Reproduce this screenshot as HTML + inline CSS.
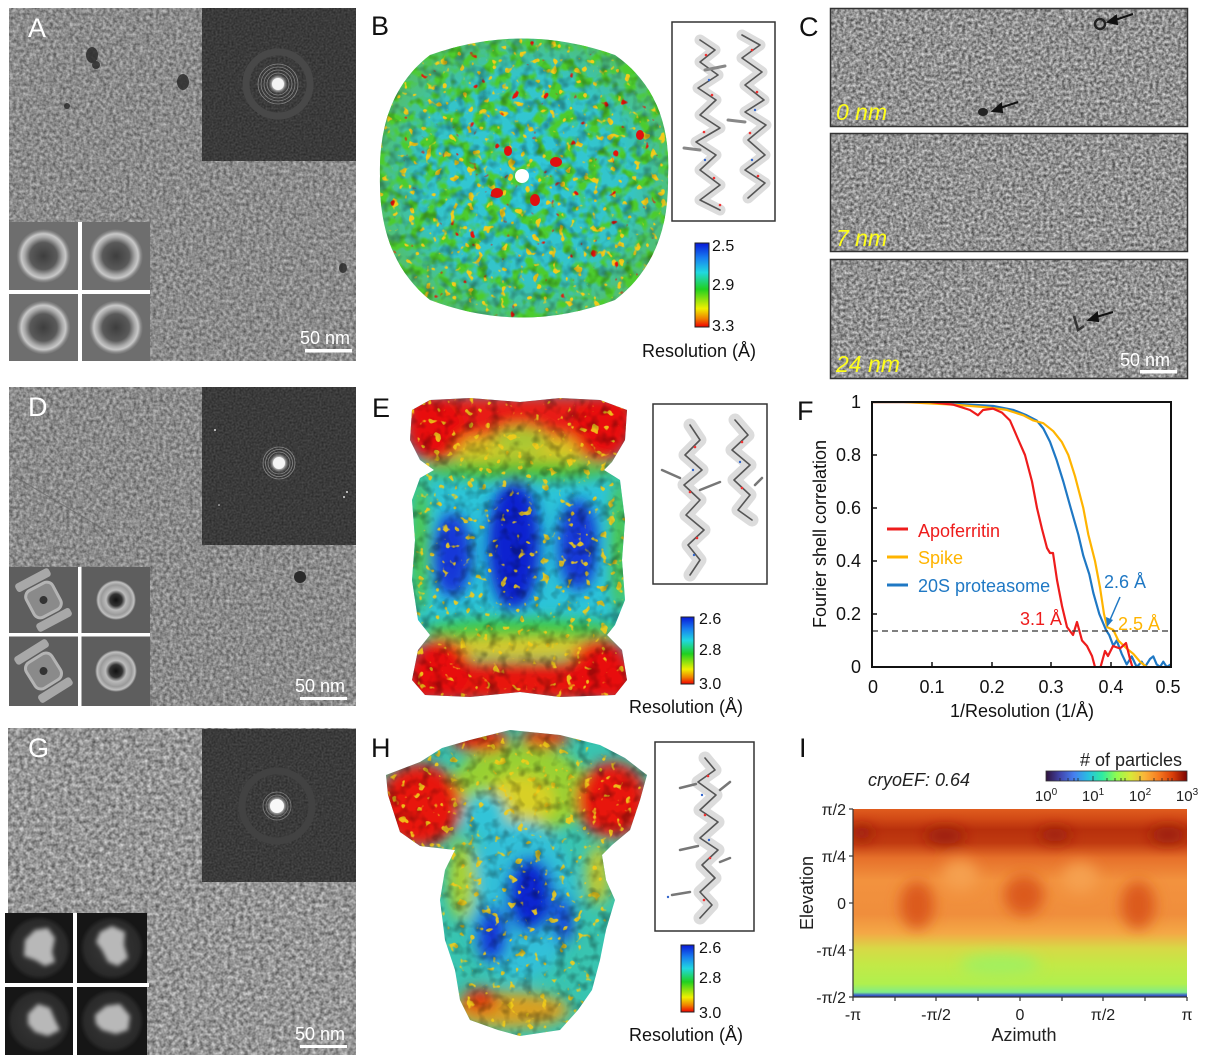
<!DOCTYPE html>
<html><head><meta charset="utf-8">
<style>html,body{margin:0;padding:0;background:#fff;width:1205px;height:1063px;overflow:hidden}svg{display:block}</style>
</head><body>
<svg xmlns="http://www.w3.org/2000/svg" width="1205" height="1063" viewBox="0 0 1205 1063" font-family="'Liberation Sans', Arial, sans-serif">
<defs>
 <filter id="mg" x="0" y="0" width="1" height="1" color-interpolation-filters="sRGB">
  <feTurbulence type="fractalNoise" baseFrequency="0.3" numOctaves="2" seed="3"/>
  <feColorMatrix type="matrix" values="0.55 0 0 0 0.27  0.55 0 0 0 0.27  0.55 0 0 0 0.27  0 0 0 0 1"/>
  <feComposite in2="SourceAlpha" operator="in"/>
 </filter>
 <filter id="mgG" x="0" y="0" width="1" height="1" color-interpolation-filters="sRGB">
  <feTurbulence type="fractalNoise" baseFrequency="0.25" numOctaves="2" seed="8"/>
  <feColorMatrix type="matrix" values="0.65 0 0 0 0.26  0.65 0 0 0 0.26  0.65 0 0 0 0.26  0 0 0 0 1"/>
  <feComposite in2="SourceAlpha" operator="in"/>
 </filter>
 <filter id="mgC" x="0" y="0" width="1" height="1" color-interpolation-filters="sRGB">
  <feTurbulence type="fractalNoise" baseFrequency="0.32" numOctaves="2" seed="5"/>
  <feColorMatrix type="matrix" values="0.8 0 0 0 0.17  0.8 0 0 0 0.17  0.8 0 0 0 0.17  0 0 0 0 1"/>
  <feComposite in2="SourceAlpha" operator="in"/>
 </filter>
 <filter id="fft" x="0" y="0" width="1" height="1" color-interpolation-filters="sRGB">
  <feTurbulence type="fractalNoise" baseFrequency="0.5" numOctaves="1" seed="2"/>
  <feColorMatrix type="matrix" values="0.2 0 0 0 0.13  0.2 0 0 0 0.13  0.2 0 0 0 0.13  0 0 0 0 1"/>
  <feComposite in2="SourceAlpha" operator="in"/>
 </filter>
 <filter id="tx" x="0" y="0" width="1" height="1" color-interpolation-filters="sRGB">
  <feTurbulence type="fractalNoise" baseFrequency="0.09" numOctaves="2" seed="9"/>
  <feColorMatrix type="matrix" values="0 0 0 0 0  0 0 0 0 0  0 0 0 0 0  3 0 0 0 -1.4"/>
  <feComposite in2="SourceAlpha" operator="in"/>
 </filter>
 <filter id="gb" x="0" y="0" width="1" height="1" color-interpolation-filters="sRGB">
  <feTurbulence type="fractalNoise" baseFrequency="0.08" numOctaves="2" seed="21"/>
  <feColorMatrix type="matrix" values="0 0 0 0 0.3  0 0 0 0 0.8  0 0 0 0 0.18  5 0 0 0 -2.3"/>
  <feComposite in2="SourceAlpha" operator="in"/>
 </filter>
 <filter id="rs" x="0" y="0" width="1" height="1" color-interpolation-filters="sRGB">
  <feTurbulence type="fractalNoise" baseFrequency="0.1" numOctaves="2" seed="33"/>
  <feColorMatrix type="matrix" values="0 0 0 0 0.9  0 0 0 0 0.08  0 0 0 0 0.05  12 0 0 0 -8.9"/>
  <feComposite in2="SourceAlpha" operator="in"/>
 </filter>
 <filter id="ys" x="0" y="0" width="1" height="1" color-interpolation-filters="sRGB">
  <feTurbulence type="fractalNoise" baseFrequency="0.12" numOctaves="2" seed="44"/>
  <feColorMatrix type="matrix" values="0 0 0 0 0.95  0 0 0 0 0.8  0 0 0 0 0.1  12 0 0 0 -7.8"/>
  <feComposite in2="SourceAlpha" operator="in"/>
 </filter>
 <filter id="bl" x="-50%" y="-50%" width="200%" height="200%"><feGaussianBlur stdDeviation="7"/></filter>
 <filter id="bl2" x="-50%" y="-50%" width="200%" height="200%"><feGaussianBlur stdDeviation="2"/></filter>

 <radialGradient id="cA">
  <stop offset="0" stop-color="#3e3e3e"/><stop offset="0.5" stop-color="#5a5a5a"/>
  <stop offset="0.7" stop-color="#a8a8a8"/><stop offset="0.82" stop-color="#c8c8c8"/>
  <stop offset="0.92" stop-color="#8a8a8a"/><stop offset="1" stop-color="#6e6e6e"/>
 </radialGradient>
 <radialGradient id="cD">
  <stop offset="0" stop-color="#111"/><stop offset="0.3" stop-color="#333"/>
  <stop offset="0.5" stop-color="#bbb"/><stop offset="0.75" stop-color="#9a9a9a"/>
  <stop offset="0.9" stop-color="#c0c0c0"/><stop offset="1" stop-color="#5e5e5e"/>
 </radialGradient>
 <radialGradient id="cG">
  <stop offset="0" stop-color="#3a3a3a"/><stop offset="0.85" stop-color="#2a2a2a"/><stop offset="1" stop-color="#161616"/>
 </radialGradient>
 <radialGradient id="fc">
  <stop offset="0" stop-color="#ffffff"/><stop offset="0.5" stop-color="#f0f0f0"/><stop offset="1" stop-color="#888" stop-opacity="0"/>
 </radialGradient>
 <radialGradient id="bB" cx="0.5" cy="0.5" r="0.5">
  <stop offset="0" stop-color="#2ec8dc"/><stop offset="0.7" stop-color="#34c4c8"/><stop offset="1" stop-color="#50c070"/>
 </radialGradient>
 <linearGradient id="cbar" x1="0" y1="0" x2="0" y2="1">
  <stop offset="0" stop-color="#0818d8"/><stop offset="0.18" stop-color="#1880f0"/>
  <stop offset="0.35" stop-color="#20d8e0"/><stop offset="0.55" stop-color="#20d020"/>
  <stop offset="0.78" stop-color="#f0f000"/><stop offset="0.9" stop-color="#f08000"/>
  <stop offset="1" stop-color="#f00000"/>
 </linearGradient>
 <linearGradient id="turbo" x1="0" y1="0" x2="1" y2="0">
  <stop offset="0" stop-color="#30123b"/><stop offset="0.1" stop-color="#4145ab"/>
  <stop offset="0.2" stop-color="#4680f0"/><stop offset="0.3" stop-color="#28c0e0"/>
  <stop offset="0.4" stop-color="#30eca0"/><stop offset="0.5" stop-color="#90fc50"/>
  <stop offset="0.6" stop-color="#d8e838"/><stop offset="0.7" stop-color="#fbb438"/>
  <stop offset="0.8" stop-color="#f57a20"/><stop offset="0.9" stop-color="#d83c08"/>
  <stop offset="1" stop-color="#7a0403"/>
 </linearGradient>
 <linearGradient id="hm" x1="0" y1="0" x2="0" y2="1">
  <stop offset="0" stop-color="#e05c1e"/><stop offset="0.05" stop-color="#d24a16"/>
  <stop offset="0.11" stop-color="#b8300c"/><stop offset="0.18" stop-color="#c03a10"/>
  <stop offset="0.26" stop-color="#e6702a"/><stop offset="0.38" stop-color="#f2923e"/>
  <stop offset="0.56" stop-color="#f08e3c"/><stop offset="0.66" stop-color="#f4a846"/>
  <stop offset="0.74" stop-color="#d8d846"/><stop offset="0.82" stop-color="#c4e846"/>
  <stop offset="0.93" stop-color="#b0f04e"/><stop offset="0.975" stop-color="#80ec88"/>
  <stop offset="0.99" stop-color="#3a60c8"/><stop offset="1" stop-color="#2a40b0"/>
 </linearGradient>

 <clipPath id="clipB"><path d="M430,55 Q522,22 615,55 Q672,95 668,176 Q670,258 615,300 Q522,335 430,300 Q378,258 380,176 Q378,95 430,55 Z"/></clipPath>
 <clipPath id="clipE"><path d="M412,410 L430,400 L470,398 L520,402 L560,398 L600,400 L627,410 L625,440 L612,462 L604,470 L620,480 L625,520 L622,560 L625,600 L615,625 L607,635 L622,650 L627,680 L615,695 L560,697 L520,692 L470,697 L425,695 L412,680 L418,650 L430,635 L418,620 L412,580 L415,540 L412,500 L420,478 L434,470 L420,460 L410,440 Z"/></clipPath>
 <clipPath id="clipH"><path d="M470,740 L510,730 L560,735 L600,745 L625,758 L647,775 L640,800 L630,830 L612,845 L602,855 L606,880 L615,900 L606,930 L600,960 L592,990 L578,1010 L560,1030 L520,1036 L498,1030 L470,1020 L460,1000 L455,970 L445,940 L440,900 L445,870 L455,850 L420,846 L400,832 L388,795 L386,775 L420,762 L442,748 Z"/></clipPath>
 <clipPath id="clipI"><rect x="853" y="809" width="334" height="188"/></clipPath>
 <clipPath id="clipF"><rect x="872" y="401" width="299" height="266"/></clipPath>
</defs>

<rect width="1205" height="1063" fill="#fff"/>

<!-- ========== Panel A ========== -->
<rect x="9" y="8" width="347" height="353" fill="#8c8c8c" filter="url(#mg)"/>
<g fill="#2a2a2a" opacity="0.85">
 <ellipse cx="92" cy="55" rx="6" ry="8"/><ellipse cx="96" cy="65" rx="4" ry="4"/>
 <ellipse cx="183" cy="82" rx="6" ry="8"/><circle cx="67" cy="106" r="3"/>
 <ellipse cx="343" cy="268" rx="4" ry="5"/>
</g>
<rect x="202" y="8" width="154" height="153" fill="#3a3a3a" filter="url(#fft)"/>
<g fill="none" stroke="#9a9a9a" stroke-width="0.8" opacity="0.8">
 <circle cx="278" cy="84" r="11"/><circle cx="278" cy="84" r="14"/><circle cx="278" cy="84" r="17"/><circle cx="278" cy="84" r="20"/>
</g>
<circle cx="278" cy="84" r="32" fill="none" stroke="#484848" stroke-width="7"/>
<circle cx="278" cy="84" r="10" fill="url(#fc)"/>
<circle cx="278" cy="84" r="6" fill="#f4f4f4"/>
<rect x="9" y="222" width="141" height="139" fill="#6e6e6e"/>
<circle cx="43.5" cy="256" r="27" fill="url(#cA)"/>
<circle cx="116" cy="256" r="27" fill="url(#cA)"/>
<circle cx="43.5" cy="327.5" r="27" fill="url(#cA)"/>
<circle cx="116" cy="327.5" r="27" fill="url(#cA)"/>
<rect x="78" y="222" width="4" height="139" fill="#fff"/>
<rect x="9" y="290" width="141" height="4" fill="#fff"/>
<text x="300" y="344" font-size="18" fill="#fff">50 nm</text>
<rect x="305" y="349" width="47" height="3.5" fill="#fff"/>
<text x="28" y="37" font-size="27" fill="#fff">A</text>

<!-- ========== Panel B ========== -->
<text x="371" y="35" font-size="27" fill="#111">B</text>
<g clip-path="url(#clipB)">
 <rect x="375" y="30" width="300" height="295" fill="url(#bB)"/>
 <rect x="375" y="30" width="300" height="295" filter="url(#gb)"/>
 <rect x="375" y="30" width="300" height="295" filter="url(#ys)"/>
 <rect x="375" y="30" width="300" height="295" filter="url(#rs)"/>
 <rect x="375" y="30" width="300" height="295" filter="url(#tx)" opacity="0.3"/>
</g>
<circle cx="522" cy="176" r="7" fill="#fff"/>
<g fill="#e01010"><ellipse cx="556" cy="162" rx="6" ry="5"/><ellipse cx="497" cy="193" rx="6" ry="5"/><ellipse cx="535" cy="200" rx="5" ry="6"/><ellipse cx="508" cy="151" rx="4" ry="5"/><ellipse cx="640" cy="135" rx="4" ry="5"/></g>
<!-- inset B -->
<rect x="672" y="22" width="103" height="199" fill="#fff" stroke="#333" stroke-width="1.5"/>
<g fill="none" stroke-linejoin="round" stroke-linecap="round">
 <path d="M700,40 L715,50 L700,62 L718,75 L698,88 L716,100 L700,115 L720,128 L696,142 L716,155 L700,170 L720,185 L700,200 L720,210" stroke="#dcdcdc" stroke-width="11"/>
 <path d="M742,35 L760,45 L742,58 L762,72 L745,85 L764,100 L745,112 L766,125 L748,140 L765,155 L745,170 L765,183 L748,198" stroke="#dcdcdc" stroke-width="11"/>
 <path d="M700,40 L715,50 L700,62 L718,75 L698,88 L716,100 L700,115 L720,128 L696,142 L716,155 L700,170 L720,185 L700,200 L720,210" stroke="#555" stroke-width="1.6"/>
 <path d="M742,35 L760,45 L742,58 L762,72 L745,85 L764,100 L745,112 L766,125 L748,140 L765,155 L745,170 L765,183 L748,198" stroke="#555" stroke-width="1.6"/>
 <path d="M684,148 L700,150 M728,120 L745,122 M705,70 L725,66" stroke="#888" stroke-width="3"/>
</g>
<g fill="#e33"><circle cx="706" cy="55" r="1.3"/><circle cx="712" cy="95" r="1.3"/><circle cx="704" cy="132" r="1.3"/><circle cx="714" cy="178" r="1.3"/><circle cx="752" cy="50" r="1.3"/><circle cx="757" cy="92" r="1.3"/><circle cx="750" cy="133" r="1.3"/><circle cx="758" cy="176" r="1.3"/><circle cx="720" cy="205" r="1.3"/></g>
<g fill="#36c"><circle cx="709" cy="80" r="1.2"/><circle cx="705" cy="160" r="1.2"/><circle cx="755" cy="110" r="1.2"/><circle cx="752" cy="160" r="1.2"/></g>
<rect x="695" y="243" width="14" height="84" fill="url(#cbar)" stroke="#222" stroke-width="1"/>
<g font-size="16" fill="#111"><text x="712" y="251">2.5</text><text x="712" y="290">2.9</text><text x="712" y="331">3.3</text></g>
<text x="642" y="357" font-size="18" fill="#111">Resolution (Å)</text>

<!-- ========== Panel C ========== -->
<text x="799" y="36" font-size="27" fill="#111">C</text>
<rect x="830" y="8" width="358" height="119" fill="#8f8f8f" filter="url(#mgC)"/>
<rect x="830" y="133" width="358" height="119" fill="#8f8f8f" filter="url(#mgC)"/>
<rect x="830" y="259" width="358" height="120" fill="#8f8f8f" filter="url(#mgC)"/>
<g fill="none" stroke="#333" stroke-width="1.5">
 <rect x="830.5" y="8.5" width="357" height="118"/><rect x="830.5" y="133.5" width="357" height="118"/><rect x="830.5" y="259.5" width="357" height="119"/>
</g>
<circle cx="1100" cy="24" r="5" fill="none" stroke="#222" stroke-width="2.5"/>
<ellipse cx="983" cy="112" rx="5" ry="4" fill="#222"/>
<path d="M1074,316 L1078,330 L1084,326" fill="none" stroke="#333" stroke-width="2.5"/>
<g stroke="#111" stroke-width="2" fill="#111">
 <line x1="1133" y1="14" x2="1112" y2="21"/><path d="M1108,22 L1116,16 L1117,24 Z"/>
 <line x1="1018" y1="102" x2="997" y2="109"/><path d="M993,111 L1001,104 L1002,112 Z"/>
 <line x1="1113" y1="312" x2="1093" y2="318"/><path d="M1089,320 L1097,313 L1098,321 Z"/>
</g>
<g font-size="23" font-style="italic" fill="#ffff1a">
 <text x="836" y="120">0 nm</text><text x="836" y="246">7 nm</text><text x="836" y="372">24 nm</text>
</g>
<text x="1120" y="366" font-size="18" fill="#fff">50 nm</text>
<rect x="1140" y="370" width="37" height="3.5" fill="#fff"/>

<!-- ========== Panel D ========== -->
<rect x="9" y="387" width="347" height="319" fill="#8e8e8e" filter="url(#mg)"/>
<line x1="12" y1="475" x2="105" y2="530" stroke="#6a6a6a" stroke-width="1.2" opacity="0.7"/>
<line x1="240" y1="563" x2="340" y2="595" stroke="#9c9c9c" stroke-width="1.2" opacity="0.7"/>
<circle cx="300" cy="577" r="6" fill="#2a2a2a"/>
<rect x="202" y="387" width="154" height="158" fill="#3a3a3a" filter="url(#fft)"/>
<g fill="none" stroke="#9a9a9a" stroke-width="0.8" opacity="0.8">
 <circle cx="279" cy="463" r="11"/><circle cx="279" cy="463" r="13.5"/><circle cx="279" cy="463" r="16"/>
</g>
<circle cx="279" cy="463" r="10" fill="url(#fc)"/>
<circle cx="279" cy="463" r="6" fill="#f4f4f4"/>
<g fill="#ddd"><circle cx="215" cy="430" r="1"/><circle cx="347" cy="492" r="1"/><circle cx="344" cy="497" r="1"/><circle cx="219" cy="505" r="0.8"/></g>
<rect x="9" y="567" width="141" height="139" fill="#5e5e5e"/>
<g transform="translate(43.5,600) rotate(-28)">
 <rect x="-19" y="-27" width="38" height="9" rx="3" fill="#a8a8a8"/><rect x="-15" y="-15" width="30" height="30" rx="7" fill="#8a8a8a" stroke="#b4b4b4" stroke-width="3"/><rect x="-19" y="18" width="38" height="9" rx="3" fill="#a8a8a8"/><circle cx="0" cy="0" r="4" fill="#333"/>
</g>
<g transform="translate(43.5,671) rotate(-32)">
 <rect x="-19" y="-27" width="38" height="9" rx="3" fill="#a8a8a8"/><rect x="-15" y="-15" width="30" height="30" rx="7" fill="#8a8a8a" stroke="#b4b4b4" stroke-width="3"/><rect x="-19" y="18" width="38" height="9" rx="3" fill="#a8a8a8"/><circle cx="0" cy="0" r="4" fill="#333"/>
</g>
<circle cx="116" cy="600" r="20" fill="url(#cD)"/>
<circle cx="116" cy="671" r="21" fill="url(#cD)"/>
<rect x="78" y="567" width="3.5" height="139" fill="#fff"/>
<rect x="9" y="633" width="141" height="3.5" fill="#fff"/>
<text x="295" y="692" font-size="18" fill="#fff">50 nm</text>
<rect x="300" y="697" width="47" height="3" fill="#fff"/>
<text x="28" y="416" font-size="27" fill="#fff">D</text>

<!-- ========== Panel E ========== -->
<text x="372" y="417" font-size="27" fill="#111">E</text>
<g clip-path="url(#clipE)">
 <rect x="405" y="395" width="230" height="305" fill="#2cc4d8"/>
 <g filter="url(#bl)">
  <rect x="405" y="395" width="230" height="45" fill="#e81a14"/>
  <ellipse cx="520" cy="450" rx="90" ry="14" fill="#d8c828"/>
  <ellipse cx="520" cy="470" rx="100" ry="10" fill="#50c030"/>
  <ellipse cx="435" cy="430" rx="30" ry="32" fill="#e8100c"/>
  <ellipse cx="602" cy="430" rx="30" ry="32" fill="#e8100c"/>
  <ellipse cx="520" cy="440" rx="28" ry="14" fill="#a8c830"/>
  <ellipse cx="420" cy="545" rx="9" ry="70" fill="#50c840"/>
  <ellipse cx="620" cy="545" rx="9" ry="70" fill="#50c840"/>
  <ellipse cx="452" cy="555" rx="20" ry="42" fill="#1238d8"/>
  <ellipse cx="514" cy="545" rx="26" ry="66" fill="#0c22d0"/>
  <ellipse cx="578" cy="545" rx="20" ry="46" fill="#1238d8"/>
  <ellipse cx="520" cy="630" rx="100" ry="12" fill="#40c840"/>
  <ellipse cx="520" cy="648" rx="100" ry="10" fill="#e0c828"/>
  <rect x="405" y="662" width="230" height="40" fill="#e8140e"/>
  <ellipse cx="440" cy="668" rx="30" ry="30" fill="#e8100c"/>
  <ellipse cx="600" cy="668" rx="30" ry="30" fill="#e8100c"/>
 </g>
 <rect x="405" y="395" width="230" height="305" filter="url(#ys)" opacity="0.9"/>
 <rect x="405" y="395" width="230" height="305" filter="url(#tx)" opacity="0.3"/>
</g>
<rect x="653" y="404" width="114" height="180" fill="#fff" stroke="#333" stroke-width="1.5"/>
<g fill="none" stroke-linejoin="round" stroke-linecap="round">
 <path d="M690,425 L700,440 L685,455 L702,470 L684,485 L700,500 L686,515 L704,530 L688,545 L700,560 L690,575" stroke="#dcdcdc" stroke-width="13"/>
 <path d="M735,420 L748,435 L732,450 L750,465 L734,480 L750,495 L738,510 L752,520" stroke="#dcdcdc" stroke-width="13"/>
 <path d="M690,425 L700,440 L685,455 L702,470 L684,485 L700,500 L686,515 L704,530 L688,545 L700,560 L690,575" stroke="#555" stroke-width="1.6"/>
 <path d="M735,420 L748,435 L732,450 L750,465 L734,480 L750,495 L738,510 L752,520" stroke="#555" stroke-width="1.6"/>
 <path d="M662,470 L680,478 M700,490 L720,482 M755,485 L762,478" stroke="#777" stroke-width="2.5"/>
</g>
<g fill="#e33"><circle cx="695" cy="447" r="1.3"/><circle cx="690" cy="492" r="1.3"/><circle cx="697" cy="538" r="1.3"/><circle cx="742" cy="442" r="1.3"/><circle cx="742" cy="488" r="1.3"/></g>
<g fill="#36c"><circle cx="693" cy="470" r="1.2"/><circle cx="740" cy="462" r="1.2"/><circle cx="694" cy="555" r="1.2"/></g>
<rect x="681" y="617" width="13" height="67" fill="url(#cbar)" stroke="#222" stroke-width="1"/>
<g font-size="16" fill="#111"><text x="699" y="624">2.6</text><text x="699" y="655">2.8</text><text x="699" y="689">3.0</text></g>
<text x="629" y="713" font-size="18" fill="#111">Resolution (Å)</text>

<!-- ========== Panel F ========== -->
<text x="797" y="420" font-size="27" fill="#111">F</text>
<g clip-path="url(#clipF)" fill="none" stroke-width="2.2" stroke-linejoin="round">
 <path stroke="#1f78c4" d="M871.7,402 L920,402 L970,404.6 L993.3,406 L1013.3,409.9 L1026.7,415.3 L1036.7,420.5 L1043.3,428.5 L1050,441.8 L1056.7,460.3 L1063.3,481.5 L1070.7,508 L1078.3,534.5 L1083.3,555.7 L1089.3,574.3 L1093.3,592.8 L1099.3,614 L1106,629.9 L1109.3,635.2 L1113.3,645.8 L1116.7,640.5 L1121.7,653.8 L1126.7,664.4 L1131.7,656.4 L1136.7,667 L1141.7,661.7 L1145,667 L1150,659 L1153.3,656.4 L1156.7,664.4 L1160,667 L1163.3,661.7 L1166.7,667 L1170.7,664.4"/>
 <path stroke="#ffb400" d="M871.7,402 L903.3,402 L953.3,404.6 L986.7,407.3 L1006.7,409.9 L1023.3,415.3 L1033.3,420.5 L1043.3,423.2 L1053.3,431.2 L1061.7,441.8 L1068.3,455 L1075,476.2 L1083.3,508 L1088.3,534.5 L1095,561 L1100,587.5 L1104,614 L1107.3,627.3 L1113.3,629.9 L1118.3,640.5 L1126.7,648.5 L1133.3,653.8 L1140,661.7 L1146.7,667"/>
 <path stroke="#ee1c1c" d="M871.7,402 L930,402 L953,404.6 L970,410 L978,415.3 L983,410 L993,408.6 L1002,412.6 L1010,420.5 L1018,439 L1025,455 L1032,481.5 L1037,508 L1042,529 L1047,548 L1050,553 L1053,553 L1057,580 L1062,606 L1067,627 L1073,635 L1077,622 L1082,640.5 L1087,646 L1092,656 L1095,667 L1100,669 L1105,651 L1108,656 L1113,646 L1120,648.5 L1126,643 L1130,659 L1133,669"/>
</g>
<line x1="872" y1="631" x2="1171" y2="631" stroke="#333" stroke-width="1.3" stroke-dasharray="6,4"/>
<rect x="872" y="402" width="299" height="265" fill="none" stroke="#111" stroke-width="2"/>
<g stroke="#111" stroke-width="1.5">
 <line x1="932" y1="667" x2="932" y2="662"/><line x1="992" y1="667" x2="992" y2="662"/><line x1="1051" y1="667" x2="1051" y2="662"/><line x1="1111" y1="667" x2="1111" y2="662"/>
 <line x1="872" y1="455" x2="877" y2="455"/><line x1="872" y1="508" x2="877" y2="508"/><line x1="872" y1="561" x2="877" y2="561"/><line x1="872" y1="614" x2="877" y2="614"/>
</g>
<g font-size="18" fill="#111" text-anchor="end">
 <text x="861" y="408">1</text><text x="861" y="461">0.8</text><text x="861" y="514">0.6</text><text x="861" y="567">0.4</text><text x="861" y="620">0.2</text><text x="861" y="673">0</text>
</g>
<g font-size="18" fill="#111" text-anchor="middle">
 <text x="873" y="693">0</text><text x="932" y="693">0.1</text><text x="992" y="693">0.2</text><text x="1051" y="693">0.3</text><text x="1111" y="693">0.4</text><text x="1168" y="693">0.5</text>
</g>
<text x="1022" y="717" font-size="18" fill="#111" text-anchor="middle">1/Resolution (1/Å)</text>
<text transform="translate(826,534) rotate(-90)" font-size="18" fill="#111" text-anchor="middle">Fourier shell correlation</text>
<g stroke-width="3">
 <line x1="887" y1="529" x2="908" y2="529" stroke="#ee1c1c"/>
 <line x1="887" y1="557" x2="908" y2="557" stroke="#ffb400"/>
 <line x1="887" y1="585" x2="908" y2="585" stroke="#1f78c4"/>
</g>
<g font-size="18">
 <text x="918" y="537" fill="#ee1c1c">Apoferritin</text>
 <text x="918" y="564" fill="#ffb400">Spike</text>
 <text x="918" y="592" fill="#1f78c4">20S proteasome</text>
 <text x="1020" y="625" fill="#ee1c1c">3.1 Å</text>
 <text x="1104" y="588" fill="#1f78c4">2.6 Å</text>
 <text x="1118" y="630" fill="#ffb400">2.5 Å</text>
</g>
<line x1="1120" y1="597" x2="1110" y2="620" stroke="#1f78c4" stroke-width="1.5"/>
<path d="M1107,627 L1106,617 L1113,620 Z" fill="#1f78c4"/>

<!-- ========== Panel G ========== -->
<rect x="8" y="728" width="348" height="327" fill="#979797" filter="url(#mgG)"/>
<rect x="202" y="729" width="154" height="153" fill="#3a3a3a" filter="url(#fft)"/>
<circle cx="277" cy="806" r="35" fill="none" stroke="#424242" stroke-width="7"/>
<g fill="none" stroke="#9a9a9a" stroke-width="0.8" opacity="0.7"><circle cx="277" cy="806" r="11"/><circle cx="277" cy="806" r="14"/></g>
<circle cx="277" cy="806" r="11" fill="url(#fc)"/>
<circle cx="277" cy="806" r="7" fill="#f8f8f8"/>
<rect x="5" y="913" width="142" height="142" fill="#161616"/>
<circle cx="39" cy="948" r="32" fill="url(#cG)"/>
<circle cx="112" cy="948" r="32" fill="url(#cG)"/>
<circle cx="39" cy="1021" r="32" fill="url(#cG)"/>
<circle cx="112" cy="1021" r="32" fill="url(#cG)"/>
<g fill="#b8b8b8" filter="url(#bl2)">
 <path d="M25,940 L35,930 L48,928 L55,938 L52,952 L55,962 L45,966 L35,960 L24,956 Z"/>
 <path d="M100,932 L112,926 L125,932 L124,945 L128,958 L118,966 L108,962 L102,950 L96,942 Z"/>
 <path d="M28,1014 L38,1004 L50,1008 L55,1020 L60,1030 L48,1036 L35,1032 L28,1024 Z"/>
 <path d="M95,1015 L106,1006 L120,1004 L130,1016 L128,1030 L116,1034 L102,1030 L96,1024 Z"/>
</g>
<rect x="73" y="913" width="4" height="142" fill="#fff"/>
<rect x="5" y="983" width="144" height="4" fill="#fff"/>
<text x="295" y="1040" font-size="18" fill="#fff">50 nm</text>
<rect x="300" y="1045" width="47" height="3" fill="#fff"/>
<text x="28" y="757" font-size="27" fill="#fff">G</text>

<!-- ========== Panel H ========== -->
<text x="371" y="757" font-size="27" fill="#111">H</text>
<g clip-path="url(#clipH)">
 <rect x="380" y="725" width="275" height="315" fill="#38c4b0"/>
 <g filter="url(#bl)">
  <ellipse cx="520" cy="790" rx="70" ry="45" fill="#98d030"/>
  <ellipse cx="520" cy="800" rx="35" ry="25" fill="#d8d028"/>
  <ellipse cx="485" cy="815" rx="22" ry="22" fill="#30c4d8"/>
  <ellipse cx="420" cy="805" rx="42" ry="42" fill="#e8120e"/>
  <ellipse cx="612" cy="800" rx="36" ry="38" fill="#e8120e"/>
  <ellipse cx="480" cy="740" rx="30" ry="12" fill="#e02010"/>
  <ellipse cx="545" cy="738" rx="25" ry="10" fill="#e03010"/>
  <ellipse cx="520" cy="900" rx="55" ry="80" fill="#30c0d8"/>
  <ellipse cx="530" cy="895" rx="24" ry="38" fill="#1028d0"/>
  <ellipse cx="492" cy="935" rx="16" ry="28" fill="#1838d8"/>
  <ellipse cx="563" cy="920" rx="10" ry="25" fill="#1838d8"/>
  <ellipse cx="462" cy="880" rx="14" ry="40" fill="#a8d030"/>
  <ellipse cx="598" cy="875" rx="12" ry="30" fill="#c0c830"/>
  <ellipse cx="510" cy="1010" rx="60" ry="18" fill="#d8a020"/>
  <ellipse cx="480" cy="1000" rx="18" ry="12" fill="#e03010"/>
 </g>
 <rect x="380" y="725" width="275" height="315" filter="url(#ys)" opacity="0.9"/>
 <rect x="380" y="725" width="275" height="315" filter="url(#tx)" opacity="0.3"/>
</g>
<rect x="655" y="742" width="99" height="189" fill="#fff" stroke="#333" stroke-width="1.5"/>
<g fill="none" stroke-linejoin="round" stroke-linecap="round">
 <path d="M705,758 L715,770 L698,782 L716,795 L700,810 L718,822 L700,838 L718,850 L702,865 L715,878 L700,892 L712,905 L700,918" stroke="#dcdcdc" stroke-width="13"/>
 <path d="M705,758 L715,770 L698,782 L716,795 L700,810 L718,822 L700,838 L718,850 L702,865 L715,878 L700,892 L712,905 L700,918" stroke="#555" stroke-width="1.6"/>
 <path d="M680,788 L696,784 M720,790 L730,782 M680,850 L698,846 M720,862 L730,858 M672,895 L690,892" stroke="#777" stroke-width="2.5"/>
</g>
<g fill="#e33"><circle cx="708" cy="776" r="1.3"/><circle cx="705" cy="815" r="1.3"/><circle cx="710" cy="858" r="1.3"/><circle cx="704" cy="900" r="1.3"/></g>
<g fill="#36c"><circle cx="702" cy="795" r="1.2"/><circle cx="709" cy="840" r="1.2"/><circle cx="668" cy="897" r="1.2"/></g>
<rect x="681" y="945" width="13" height="67" fill="url(#cbar)" stroke="#222" stroke-width="1"/>
<g font-size="16" fill="#111"><text x="699" y="953">2.6</text><text x="699" y="983">2.8</text><text x="699" y="1018">3.0</text></g>
<text x="629" y="1041" font-size="18" fill="#111">Resolution (Å)</text>

<!-- ========== Panel I ========== -->
<text x="799" y="757" font-size="27" fill="#111">I</text>
<text x="868" y="786" font-size="18" font-style="italic" fill="#222">cryoEF: 0.64</text>
<text x="1080" y="766" font-size="18" fill="#222"># of particles</text>
<rect x="1046" y="771" width="141" height="10" fill="url(#turbo)" stroke="#333" stroke-width="0.8"/>
<g stroke="#222" stroke-width="0.8">
 <line x1="1093" y1="776" x2="1093" y2="781"/><line x1="1140" y1="776" x2="1140" y2="781"/>
 <line x1="1060" y1="778" x2="1060" y2="781"/><line x1="1068" y1="778" x2="1068" y2="781"/><line x1="1074" y1="778" x2="1074" y2="781"/><line x1="1078" y1="778" x2="1078" y2="781"/>
 <line x1="1107" y1="778" x2="1107" y2="781"/><line x1="1115" y1="778" x2="1115" y2="781"/><line x1="1121" y1="778" x2="1121" y2="781"/><line x1="1125" y1="778" x2="1125" y2="781"/>
 <line x1="1154" y1="778" x2="1154" y2="781"/><line x1="1162" y1="778" x2="1162" y2="781"/><line x1="1168" y1="778" x2="1168" y2="781"/><line x1="1172" y1="778" x2="1172" y2="781"/>
</g>
<g font-size="15" fill="#222" text-anchor="middle">
 <text x="1046" y="801">10<tspan dy="-6" font-size="10">0</tspan></text>
 <text x="1093" y="801">10<tspan dy="-6" font-size="10">1</tspan></text>
 <text x="1140" y="801">10<tspan dy="-6" font-size="10">2</tspan></text>
 <text x="1187" y="801">10<tspan dy="-6" font-size="10">3</tspan></text>
</g>
<g clip-path="url(#clipI)">
 <rect x="853" y="809" width="334" height="188" fill="url(#hm)"/>
 <g filter="url(#bl)">
  <ellipse cx="862" cy="833" rx="10" ry="7" fill="#981a08"/>
  <ellipse cx="945" cy="836" rx="20" ry="8" fill="#981a08"/>
  <ellipse cx="1055" cy="835" rx="16" ry="7" fill="#9a1c08"/>
  <ellipse cx="1168" cy="835" rx="18" ry="8" fill="#981a08"/>
  <ellipse cx="917" cy="905" rx="17" ry="24" fill="#dc5a1e"/>
  <ellipse cx="1024" cy="895" rx="20" ry="20" fill="#dc5a1e"/>
  <ellipse cx="1138" cy="905" rx="17" ry="24" fill="#dc5a1e"/>
  <ellipse cx="960" cy="875" rx="18" ry="15" fill="#f5a050"/>
  <ellipse cx="1080" cy="878" rx="18" ry="15" fill="#f5a050"/>
  <ellipse cx="1000" cy="965" rx="40" ry="10" fill="#a0f060"/>
 </g>
</g>
<g stroke="#333" stroke-width="1.2">
 <line x1="853" y1="809" x2="853" y2="997"/><line x1="853" y1="997" x2="1187" y2="997"/>
 <line x1="849" y1="809" x2="853" y2="809"/><line x1="849" y1="856" x2="853" y2="856"/><line x1="849" y1="903" x2="853" y2="903"/><line x1="849" y1="950" x2="853" y2="950"/><line x1="849" y1="997" x2="853" y2="997"/>
 <line x1="853" y1="997" x2="853" y2="1001"/><line x1="895" y1="997" x2="895" y2="1001"/><line x1="936" y1="997" x2="936" y2="1001"/><line x1="978" y1="997" x2="978" y2="1001"/><line x1="1020" y1="997" x2="1020" y2="1001"/><line x1="1062" y1="997" x2="1062" y2="1001"/><line x1="1103" y1="997" x2="1103" y2="1001"/><line x1="1145" y1="997" x2="1145" y2="1001"/><line x1="1187" y1="997" x2="1187" y2="1001"/>
</g>
<g font-size="16" fill="#222" text-anchor="end">
 <text x="846" y="815">π/2</text><text x="846" y="862">π/4</text><text x="846" y="909">0</text><text x="846" y="956">-π/4</text><text x="846" y="1003">-π/2</text>
</g>
<g font-size="16" fill="#222" text-anchor="middle">
 <text x="853" y="1020">-π</text><text x="936" y="1020">-π/2</text><text x="1020" y="1020">0</text><text x="1103" y="1020">π/2</text><text x="1187" y="1020">π</text>
</g>
<text x="1024" y="1041" font-size="18" fill="#222" text-anchor="middle">Azimuth</text>
<text transform="translate(813,893) rotate(-90)" font-size="18" fill="#222" text-anchor="middle">Elevation</text>
</svg>
</body></html>
